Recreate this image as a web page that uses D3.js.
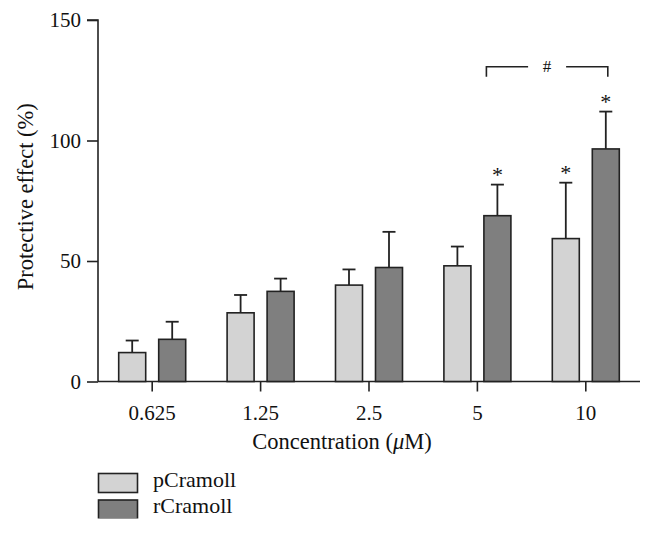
<!DOCTYPE html>
<html>
<head>
<meta charset="utf-8">
<script src="https://cdn.jsdelivr.net/npm/d3@7"></script>
<style>
  html, body { margin: 0; padding: 0; background: #fff; }
  svg { display: block; }
  text { font-family: "Liberation Serif", "Times New Roman", serif; fill: #111; }
</style>
</head>
<body>
<svg id="chart" width="653" height="534"></svg>
<script>
const categories = ["0.625", "1.25", "2.5", "5", "10"];
const seriesNames = ["pCramoll", "rCramoll"];
const pCramoll = [12, 28.5, 40, 48, 59.3];
const pCramollErr = [5, 7.4, 6.5, 8, 23.2];
const rCramoll = [17.5, 37.4, 47.3, 68.8, 96.5];
const rCramollErr = [7.3, 5.3, 14.8, 12.9, 15.5];
const significant = [[false, false], [false, false], [false, false], [false, true], [true, true]];
const yTicks = [0, 50, 100, 150];
const colors = ["#d3d3d3", "#7f7f7f"];

const svg = d3.select("#chart");
const margin = { left: 98, right: 13, top: 20, bottom: 152.5 };
const W = 653, H = 534;
const x = d3.scaleBand().domain(categories).range([margin.left, W - margin.right]).padding(0);
const y = d3.scaleLinear().domain([0, 150]).range([H - margin.bottom, margin.top]);
const barW = 27, offset = 20;

// axes
const gy = svg.append("g").attr("transform", `translate(${margin.left},0)`)
  .call(d3.axisLeft(y).tickValues(yTicks).tickSize(11).tickPadding(6));
const gx = svg.append("g").attr("transform", `translate(0,${y(0)})`)
  .call(d3.axisBottom(x).tickSize(10).tickPadding(14).tickSizeOuter(0));
[gx, gy].forEach(g => {
  g.selectAll("path, line").attr("stroke", "#222").attr("stroke-width", 1.6);
  g.selectAll("text").attr("font-family", "Liberation Serif, serif").attr("font-size", 21).attr("fill", "#111");
});
gy.select(".domain").attr("d", `M-11,${y(150)}H0V${y(0)}`);
gx.select(".domain").attr("d", `M${margin.left},0H${W - margin.right}`);

// data table
const data = categories.map((c, i) => ({
  c, vals: [pCramoll[i], rCramoll[i]], errs: [pCramollErr[i], rCramollErr[i]], sig: significant[i]
}));

const groups = svg.append("g").selectAll("g").data(data).join("g");
groups.each(function (d) {
  const g = d3.select(this);
  const cx = x(d.c) + x.bandwidth() / 2;
  d.vals.forEach((v, k) => {
    const bx = cx + (k === 0 ? -offset : offset);
    const top = y(v + d.errs[k]);
    g.append("line").attr("x1", bx).attr("x2", bx).attr("y1", y(v)).attr("y2", top)
      .attr("stroke", "#222").attr("stroke-width", 1.8);
    g.append("line").attr("x1", bx - 6.5).attr("x2", bx + 6.5).attr("y1", top).attr("y2", top)
      .attr("stroke", "#222").attr("stroke-width", 1.8);
    g.append("rect").attr("x", bx - barW / 2).attr("y", y(v)).attr("width", barW).attr("height", y(0) - y(v))
      .attr("fill", colors[k]).attr("stroke", "#222").attr("stroke-width", 1.6);
    if (d.sig[k]) {
      g.append("text").attr("x", bx).attr("y", top - 3).attr("text-anchor", "middle")
        .attr("font-size", 22).text("*");
    }
  });
});

// bracket between 5 and 10 (rCramoll)
const bxL = x("5") + x.bandwidth() / 2 + 9;
const bxR = x("10") + x.bandwidth() / 2 + offset + 2;
const by = y(130.6);
const bmid = (bxL + bxR) / 2;
svg.append("path").attr("d", `M${bxL},${by + 10}V${by}H${bmid - 19}`).attr("fill", "none").attr("stroke", "#222").attr("stroke-width", 1.6);
svg.append("path").attr("d", `M${bmid + 19},${by}H${bxR}V${by + 10}`).attr("fill", "none").attr("stroke", "#222").attr("stroke-width", 1.6);
svg.append("text").attr("x", bmid).attr("y", by + 5).attr("text-anchor", "middle").attr("font-size", 17).text("#");

// axis titles
svg.append("text").attr("x", x("2.5") + x.bandwidth() / 2 - 27).attr("y", 448.5).attr("text-anchor", "middle")
  .attr("font-size", 22.5)
  .html('Concentration (<tspan font-style="italic">μ</tspan>M)');
svg.append("text").attr("transform", `translate(33,${(y(0) + y(150)) / 2 - 4}) rotate(-90)`)
  .attr("text-anchor", "middle").attr("font-size", 22.5).text("Protective effect (%)");

// legend
const leg = svg.append("g");
seriesNames.forEach((n, k) => {
  const ly = 473.5 + k * 26.5;
  leg.append("rect").attr("x", 98.5).attr("y", ly).attr("width", 39).attr("height", 19)
    .attr("fill", colors[k]).attr("stroke", "#222").attr("stroke-width", 1.6);
  leg.append("text").attr("x", 153).attr("y", ly + 13).attr("font-size", 22).text(n);
});
// reference image is cropped below the second legend entry
svg.append("rect").attr("x", 0).attr("y", 518.5).attr("width", W).attr("height", H - 518.5).attr("fill", "#fff");
</script>
</body>
</html>
